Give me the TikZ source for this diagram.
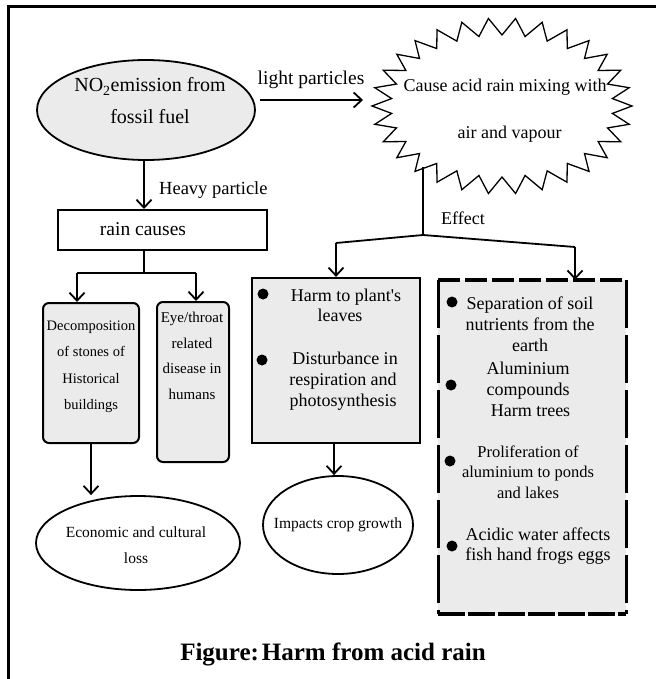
\documentclass[tikz,border=0pt]{standalone}
\usepackage{fontspec}
\setmainfont{Liberation Serif}
\usetikzlibrary{arrows.meta,shapes.geometric}
\definecolor{boxgray}{HTML}{EBEBEB}
\tikzset{
  txt/.style={inner sep=0pt, align=center},
  conn/.style={line width=1.8pt},
  arr/.style={line width=1.8pt, -{Straight Barb[length=8pt,width=15pt]}},
  dot/.style={circle, fill=black, minimum size=11pt, inner sep=0pt},
  oval/.style={ellipse, draw, line width=1.8pt, inner sep=0pt},
  grayrect/.style={draw, fill=boxgray, line width=2pt, inner sep=0pt},
}
\begin{document}
\begin{tikzpicture}[x=1pt,y=-1pt]
\useasboundingbox (0,0) rectangle (655,679);
% outer frame
\draw[line width=3pt] (8,690) -- (8,7) -- (670,7);

% NO2 ellipse
\node[oval, fill=boxgray, minimum width=218pt, minimum height=100pt] (no2) at (146,110) {};
\node[txt, font=\fontsize{20}{32}\selectfont] (no2t) at (150,101) {NO\textsubscript{2}emission from\\fossil fuel};

% starburst
\draw[line width=1.3pt, fill=white] (632,106)
  \foreach \i in {1,...,59} { -- ({502+(mod(\i,2)==0 ? 130 : 111)*cos(\i*6)},{106+(mod(\i,2)==0 ? 88 : 71)*sin(\i*6)}) } -- cycle;
\node[txt, font=\fontsize{18}{47}\selectfont] (burst) at (505,111) {Cause acid rain mixing with\\\hspace*{9pt}air and vapour};
\coordinate (bstem) at (423,167);

% light particles arrow
\node[txt, font=\fontsize{19.5}{22}\selectfont] (lpl) at (311,80) {light particles};
\draw[arr] (260,100) -- (363,100);

% heavy particle arrow
\node[draw, line width=2pt, minimum width=209pt, minimum height=40pt, inner sep=0pt] (rain) at (162.5,230) {};
\node[txt, font=\fontsize{19.5}{22}\selectfont] (raint) at (143,229) {rain causes};
\draw[arr] (no2.south -| 144,0) -- (rain.north -| 144,0);
\node[txt, font=\fontsize{18.5}{22}\selectfont, anchor=west] (hpl) at (159,190) {Heavy particle};

% rain causes split
\coordinate (rj) at (144,273);
\coordinate (rl) at (77,273);
\coordinate (rr) at (196,273);
\draw[conn] (rain.south -| 144,0) -- (rj);
\draw[conn] (rl) -- (rr);

% tall boxes
\node[grayrect, rounded corners=6pt, minimum width=96pt, minimum height=140pt] (decomp) at (91,373) {};
\node[txt, font=\fontsize{14.5}{26.5}\selectfont] (decompt) at (91,367) {Decomposition\\of stones of\\Historical\\buildings};
\node[grayrect, rounded corners=6pt, minimum width=72pt, minimum height=160pt] (eye) at (193,382) {};
\node[txt, font=\fontsize{15}{25.5}\selectfont] (eyet) at (192,356) {Eye/throat\\related\\disease in\\humans};
\draw[arr] (rl) -- (rl |- decomp.north);
\draw[arr] (rr) -- (rr |- eye.north);

% economic ellipse
\node[oval, minimum width=204pt, minimum height=94pt] (econ) at (138,543) {};
\node[txt, font=\fontsize{15.5}{26}\selectfont] (econt) at (136,545) {Economic and cultural\\loss};
\draw[arr] (decomp.south) -- (econ.north -| decomp.south);

% effect branch
\coordinate (ej) at (423,235);
\coordinate (el) at (336,243);
\coordinate (er) at (575,247);
\node[txt, font=\fontsize{18}{22}\selectfont] (efl) at (463,218) {Effect};
\draw[conn] (bstem) -- (ej);
\draw[conn] (el) -- (ej) -- (er);

% Harm box
\node[grayrect, line width=2.2pt, minimum width=168pt, minimum height=165pt] (harm) at (336,360.5) {};
\node[dot] (hd1) at (263,294) {};
\node[dot] (hd2) at (262,360) {};
\node[txt, font=\fontsize{18}{20}\selectfont] (ht1) at (340,305) {\hspace*{12pt}Harm to plant\textquotesingle s\\leaves};
\node[txt, font=\fontsize{18}{21}\selectfont] (ht2) at (343,381) {\hspace*{4pt}Disturbance in\\respiration and\\photosynthesis};
\draw[arr] (el) -- (el |- harm.north);

% impacts ellipse
\node[oval, minimum width=150pt, minimum height=98pt] (crop) at (338,525) {};
\node[txt, font=\fontsize{15.5}{20}\selectfont] (cropt) at (338,525) {Impacts crop growth};
\draw[arr] (harm.south -| 334,0) -- (crop.north -| 334,0);

% dashed box
\path[fill=boxgray] (438,280) rectangle (626,614);
\draw[line width=3.5pt, dash pattern=on 22pt off 5pt] (438,280) -- (626,280);
\draw[line width=3.5pt, dash pattern=on 27pt off 3pt] (438,614) -- (626,614);
\draw[line width=3pt, dash pattern=on 48pt off 7pt] (438,280) -- (438,614);
\draw[line width=3pt, dash pattern=on 48pt off 7pt] (626,280) -- (626,614);
\node[minimum width=188pt, minimum height=334pt, inner sep=0pt] (soil) at (532,447) {};
\draw[arr] (er) -- (er |- soil.north);
\node[dot] (sd1) at (452,302) {};
\node[dot] (sd2) at (451,385) {};
\node[dot] (sd3) at (450,461) {};
\node[dot] (sd4) at (452,546) {};
\node[txt, font=\fontsize{18}{21}\selectfont] (st1) at (530,324) {Separation of soil\\nutrients from the\\earth};
\node[txt, font=\fontsize{18}{21}\selectfont] (st2) at (528,389) {Aluminium\\compounds\\\hspace*{5pt}Harm trees};
\node[txt, font=\fontsize{16.5}{20.5}\selectfont] (st3) at (528,472) {Proliferation of\\aluminium to ponds\\and lakes};
\node[txt, font=\fontsize{18}{20}\selectfont] (st4) at (538,546) {Acidic water affects\\fish hand frogs eggs};

% title
\node[txt, font=\bfseries\fontsize{25}{28}\selectfont] (title) at (333,654) {Figure:\hspace{3pt}Harm from acid rain};
\end{tikzpicture}
\end{document}
